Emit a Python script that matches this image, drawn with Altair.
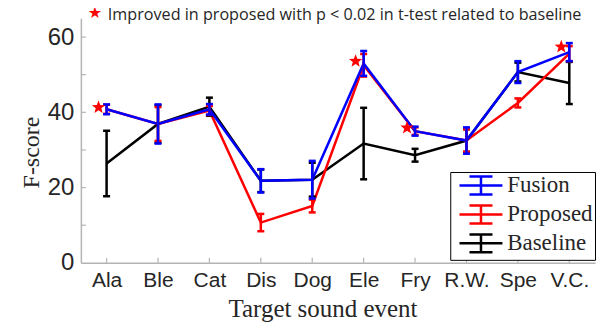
import math
import altair as alt
import pandas as pd

cats = ["Ala", "Ble", "Cat", "Dis", "Dog", "Ele", "Fry", "R.W.", "Spe", "V.C."]
series_names = ["Fusion", "Proposed", "Baseline"]
series_colors = ["#0000ff", "#ff0000", "#000000"]

fusion = [40.8, 36.9, 40.8, 21.8, 22.1, 53.0, 35.0, 32.5, 50.7, 56.0]
fusion_err = [1.3, 5.2, 1.4, 3.1, 5.0, 3.3, 1.2, 3.5, 2.9, 2.4]
proposed = [40.8, 36.9, 40.5, 10.7, 15.1, 52.5, 35.0, 32.5, 42.5, 55.6]
proposed_err = [1.2, 4.5, 1.2, 2.3, 1.7, 3.0, 1.0, 3.0, 1.2, 2.0]
baseline = [26.4, 36.9, 41.5, 21.8, 22.1, 31.7, 28.6, 32.5, 50.7, 47.8]
baseline_err = [8.7, 5.0, 2.4, 3.0, 4.5, 9.5, 1.7, 3.0, 2.5, 5.6]

star_cats = ["Ala", "Ele", "Fry", "V.C."]
star_vals = [41.3, 53.6, 35.9, 57.4]

note = "Improved in proposed with p < 0.02 in t-test related to baseline"
y_ticks = [10, 20, 30, 40, 50, 60]
y_labels = [0, 20, 40, 60]

rows = []
for name, vals, errs in [("Fusion", fusion, fusion_err),
                         ("Proposed", proposed, proposed_err),
                         ("Baseline", baseline, baseline_err)]:
    for c, v, e in zip(cats, vals, errs):
        rows.append({"cat": c, "series": name, "value": v, "lo": v - e, "hi": v + e})
df = pd.DataFrame(rows)
stars = pd.DataFrame({"cat": star_cats, "value": star_vals})

W, H = 515, 245
GRAY = "#b4b4b4"
TXT = "#262626"
COL = dict(zip(series_names, series_colors))

# star glyph (shifted left of the point), unit coordinates
def star_path(cx):
    pts = []
    for k in range(10):
        r = 1.0 if k % 2 == 0 else 0.42
        a = math.radians(-90 + 36 * k)
        pts.append(f"{cx + r * math.cos(a):.3f},{r * math.sin(a):.3f}")
    return "M" + "L".join(pts) + "Z"

xscale = alt.Scale(type="point", domain=cats, padding=0.5)
yscale = alt.Scale(domain=[0, 65])
color = alt.Color(
    "series:N",
    scale=alt.Scale(domain=series_names, range=series_colors),
    legend=alt.Legend(
        title=None, orient="none", legendX=370, legendY=154,
        symbolType="M-0.47,0H4.31M1.92,-1V1M0.64,-1H3.2M0.64,1H3.2",
        symbolSize=324, symbolStrokeWidth=2.5,
        labelFont="Liberation Serif", labelFontSize=23, labelColor=TXT,
        labelOffset=32, rowPadding=0, padding=2,
        strokeColor="black", fillColor="white",
    ),
)
xenc = alt.X("cat:N", scale=xscale,
             axis=alt.Axis(title="Target sound event", labelAngle=0, ticks=False,
                           domainColor=GRAY, domainWidth=1.5,
                           labelFont="Liberation Sans", labelFontSize=21, labelColor=TXT,
                           labelPadding=7, titleFont="Liberation Serif", titleFontSize=25,
                           titleFontWeight="normal", titleColor=TXT, titlePadding=6,
                           titleX=242))
yenc = alt.Y("value:Q", scale=yscale,
             axis=alt.Axis(title="F-score", values=y_labels, ticks=False, grid=False,
                           domainColor=GRAY, domainWidth=1.5,
                           labelFont="Liberation Sans", labelFontSize=24, labelColor=TXT,
                           labelPadding=7, titleFont="Liberation Serif", titleFontSize=24,
                           titleFontWeight="normal", titleColor=TXT, titleY=134))
xp = alt.X("cat:N", scale=xscale)

layers = []
for name in ["Baseline", "Proposed", "Fusion"]:
    base = alt.Chart(df).transform_filter(alt.datum.series == name)
    layers.append(base.mark_line(strokeWidth=2.5).encode(x=xenc, y=yenc, color=color))
for name in ["Baseline", "Proposed", "Fusion"]:
    base = alt.Chart(df).transform_filter(alt.datum.series == name)
    layers.append(base.mark_rule(strokeWidth=2.5, color=COL[name]).encode(
        x=xp, y=alt.Y("lo:Q", scale=yscale), y2="hi:Q"))
    for f in ["lo", "hi"]:
        layers.append(base.mark_point(shape="M-1,0H1", size=49, filled=False, strokeWidth=2.5,
                                      color=COL[name], opacity=1).encode(
            x=xp, y=alt.Y(f + ":Q", scale=yscale)))

star_layer = alt.Chart(stars).mark_point(shape=star_path(-1.15), size=196, filled=True,
                                         color="#ff0000", opacity=1, strokeWidth=0).encode(
    x=xp, y=alt.Y("value:Q", scale=yscale))

ytick_layer = alt.Chart(pd.DataFrame({"v": y_ticks})).mark_rule(color=GRAY, strokeWidth=1.2).encode(
    y=alt.Y("v:Q", scale=yscale), x=alt.value(0), x2=alt.value(5))
xtick_layer = alt.Chart(pd.DataFrame({"cat": cats})).mark_rule(color=GRAY, strokeWidth=1.2).encode(
    x=xp, y=alt.value(H), y2=alt.value(H - 5))

note_star = alt.Chart(pd.DataFrame({"t": ["★"]})).mark_text(
    color="#ff0000", fontSize=16, align="center", baseline="middle", font="DejaVu Sans").encode(
    text="t:N", x=alt.value(14), y=alt.value(-5))
note_text = alt.Chart(pd.DataFrame({"t": [note]})).mark_text(
    color=TXT, fontSize=16.2, align="left", baseline="alphabetic", font="Open Sans").encode(
    text="t:N", x=alt.value(27), y=alt.value(2))

chart = alt.layer(
    *layers, ytick_layer, xtick_layer, star_layer, note_star, note_text
).properties(
    width=W, height=H,
    autosize=alt.AutoSizeParams(type="none"),
    padding={"left": 73, "top": 10, "right": 2, "bottom": 64},
).configure_view(strokeOpacity=0).configure_legend(labelFont="Liberation Serif")

chart.save("out.html", embed_options={"renderer": "svg", "actions": False})
